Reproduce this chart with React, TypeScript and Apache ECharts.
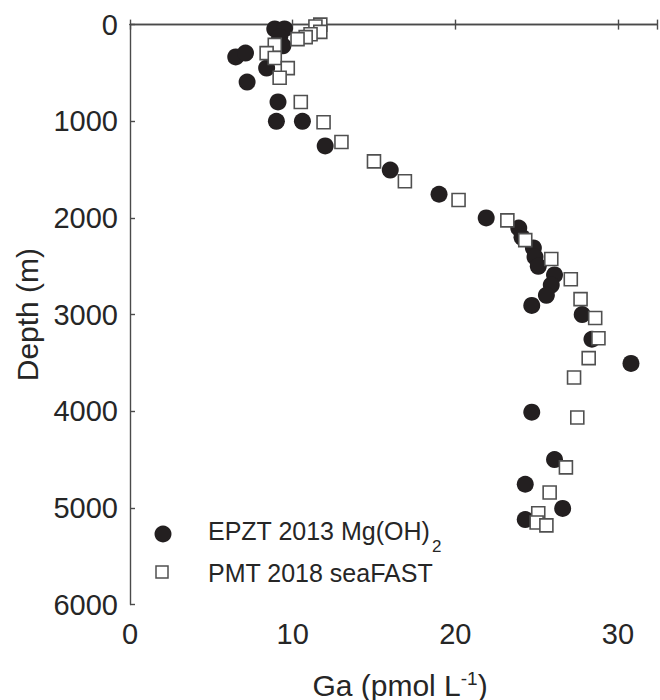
import React, { useEffect, useRef } from "react";
import * as echarts from "echarts";

// EPZT 2013 Mg(OH)2 (filled circles)
const epztGa = [8.9, 9.5, 9.2, 9.4, 6.5, 7.1, 8.4, 7.2, 9.1, 9.0, 10.6, 12.0, 16.0, 19.0, 21.9, 23.9, 24.1, 24.8, 24.9, 25.1, 26.1, 25.9, 25.6, 24.7, 27.8, 28.4, 30.8, 24.7, 26.1, 24.3, 26.6, 24.3];
const epztDepth = [45, 45, 130, 220, 335, 295, 450, 595, 800, 1000, 1000, 1255, 1505, 1755, 2000, 2105, 2200, 2310, 2405, 2500, 2590, 2695, 2800, 2905, 3000, 3255, 3505, 4010, 4500, 4755, 5005, 5120];

// PMT 2018 seaFAST (open squares)
const pmtGa = [11.7, 11.4, 11.7, 11.1, 10.8, 10.3, 8.9, 8.4, 8.9, 9.7, 9.2, 10.5, 11.9, 13.0, 15.0, 16.9, 20.2, 23.2, 24.3, 25.9, 27.1, 27.7, 28.6, 28.8, 28.2, 27.3, 27.5, 26.8, 25.8, 25.1, 25.0, 25.6];
const pmtDepth = [0, 20, 75, 100, 130, 150, 210, 295, 345, 450, 550, 800, 1010, 1215, 1415, 1620, 1815, 2025, 2230, 2425, 2635, 2840, 3035, 3245, 3450, 3650, 4065, 4580, 4840, 5055, 5150, 5180];

const xTicks = [0, 10, 20, 30];
const yTicks = [0, 1000, 2000, 3000, 4000, 5000, 6000];

const FONT = "'Liberation Sans', Arial, Helvetica, sans-serif";
const TXT = "#262626";
const AX = "#4a4a4a";

export default function App() {
  const ref = useRef<HTMLDivElement>(null);
  useEffect(() => {
    document.body.style.margin = "0";
    const chart = echarts.init(ref.current!, null, { renderer: "svg" });
    const axisLine = { show: true, lineStyle: { color: AX, width: 1.4 } };
    const tick = { show: true, inside: true, length: 5, lineStyle: { color: AX, width: 1.4 } };
    chart.setOption({
      animation: false,
      backgroundColor: "#ffffff",
      grid: { left: 130, right: 0, top: 24.6, bottom: 95.4, containLabel: false },
      xAxis: [
        {
          type: "value",
          position: "bottom",
          min: 0,
          max: 32.4,
          interval: 10,
          axisLine,
          axisTick: tick,
          splitLine: { show: false },
          axisLabel: {
            fontSize: 29,
            fontFamily: FONT,
            color: TXT,
            margin: 15,
            formatter: (v: number) => (xTicks.includes(v) ? String(v) : ""),
          },
        },
        {
          type: "value",
          position: "top",
          min: 0,
          max: 32.4,
          interval: 10,
          axisLine,
          axisTick: tick,
          splitLine: { show: false },
          axisLabel: { show: false },
        },
      ],
      yAxis: {
        type: "value",
        inverse: true,
        min: 0,
        max: 6000,
        interval: 1000,
        axisLine,
        axisTick: tick,
        splitLine: { show: false },
        axisLabel: {
          fontSize: 29,
          fontFamily: FONT,
          color: TXT,
          margin: 12,
          formatter: (v: number) => (yTicks.includes(v) ? String(v) : ""),
        },
        name: "Depth (m)",
        nameLocation: "middle",
        nameRotate: 90,
        nameGap: 86,
        nameTextStyle: { fontSize: 30, fontFamily: FONT, color: TXT },
      },
      series: [
        {
          name: "EPZT 2013 Mg(OH)2",
          type: "scatter",
          symbol: "circle",
          symbolSize: 17,
          itemStyle: { color: "#231f20", opacity: 1 },
          data: epztGa.map((g, i) => [g, epztDepth[i]]),
          z: 2,
        },
        {
          name: "PMT 2018 seaFAST",
          type: "scatter",
          symbol: "rect",
          symbolSize: 13,
          itemStyle: { color: "#ffffff", borderColor: "#505050", borderWidth: 1.6, opacity: 1 },
          data: pmtGa.map((g, i) => [g, pmtDepth[i]]),
          z: 3,
        },
      ],
      graphic: [
        {
          type: "text",
          x: 400,
          y: 685,
          style: {
            text: "Ga (pmol L{sup|-1})",
            fontSize: 30,
            fontFamily: FONT,
            fill: TXT,
            align: "center",
            verticalAlign: "middle",
            lineHeight: 32,
            rich: {
              sup: { fontSize: 19, fontFamily: FONT, fill: TXT, lineHeight: 18, verticalAlign: "top" },
            },
          },
        },
        { type: "circle", shape: { cx: 163, cy: 534, r: 8.5 }, style: { fill: "#231f20" } },
        { type: "rect", shape: { x: 156, y: 566, width: 12, height: 12 }, style: { fill: "#fff", stroke: "#505050", lineWidth: 1.5 } },
        {
          type: "text",
          x: 208,
          y: 531,
          style: { text: "EPZT 2013 Mg(OH)", fontSize: 25, fontFamily: FONT, fill: TXT, verticalAlign: "middle" },
        },
        {
          type: "text",
          x: 432,
          y: 546,
          style: { text: "2", fontSize: 17, fontFamily: FONT, fill: TXT, verticalAlign: "middle" },
        },
        {
          type: "text",
          x: 208,
          y: 573,
          style: { text: "PMT 2018 seaFAST", fontSize: 25, fontFamily: FONT, fill: TXT, verticalAlign: "middle" },
        },
      ],
    });
    return () => chart.dispose();
  }, []);
  return <div ref={ref} style={{ width: 660, height: 700, position: "absolute", left: 0, top: 0 }} />;
}
